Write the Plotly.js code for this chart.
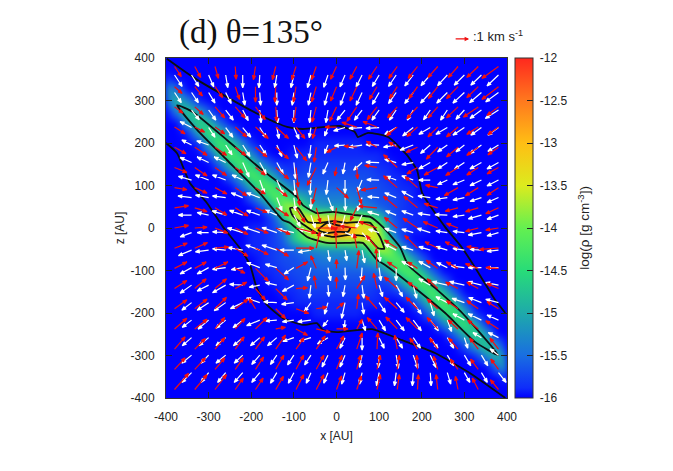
<!DOCTYPE html>
<html><head><meta charset="utf-8">
<script src="https://cdn.plot.ly/plotly-3.0.1.min.js"></script>
<style>html,body{margin:0;padding:0;background:#fff}.heatmaplayer image{filter:blur(3px)}</style></head>
<body><div id="chart" style="width:673px;height:471px"></div>
<script>
// log density in units of -0.1 dex, rows from z=400 to z=-400, columns x=-400..400, step 25
const densityTenths = [
[160,160,160,160,160,160,160,160,160,160,160,160,160,160,160,160,160,160,160,160,160,160,160,160,160,160,160,160,160,160,160,160,160],
[160,160,160,160,160,160,160,160,160,160,160,160,160,160,160,160,160,160,160,160,160,160,160,160,160,160,160,160,160,160,160,160,160],
[158,160,160,160,160,160,160,160,160,160,160,160,160,160,160,160,160,160,160,160,160,160,160,160,160,160,160,160,160,160,160,160,160],
[150,155,160,160,160,160,160,160,160,160,160,160,160,160,160,160,160,160,160,160,160,160,160,160,160,160,160,160,160,160,160,160,160],
[155,148,153,159,160,160,160,160,160,160,160,160,160,160,160,160,160,160,160,160,160,160,160,160,160,160,160,160,160,160,160,160,160],
[160,153,146,151,157,160,160,160,160,160,160,160,160,160,160,160,160,160,160,160,160,160,160,160,160,160,160,160,160,160,160,160,160],
[160,160,151,145,149,156,160,160,160,160,160,160,160,160,160,160,160,160,160,160,160,160,160,160,160,160,160,160,160,160,160,160,160],
[160,160,159,150,143,148,154,160,160,160,160,160,160,160,160,160,160,160,160,160,160,160,160,160,160,160,160,160,160,160,160,160,160],
[160,160,160,159,149,142,146,153,159,160,160,160,160,160,159,159,159,159,159,160,160,160,160,160,160,160,160,160,160,160,160,160,160],
[160,160,160,160,157,148,141,146,153,159,160,160,159,159,159,159,159,159,159,159,159,160,160,160,160,160,160,160,160,160,160,160,160],
[160,160,160,160,160,156,148,141,146,153,158,159,159,158,158,158,158,158,158,158,159,159,160,160,160,160,160,160,160,160,160,160,160],
[160,160,160,160,160,160,156,149,141,145,151,157,158,157,157,157,157,157,157,157,158,159,159,160,160,160,160,160,160,160,160,160,160],
[160,160,160,160,160,160,160,156,149,141,143,150,155,156,156,156,156,156,156,157,157,158,159,159,160,160,160,160,160,160,160,160,160],
[160,160,160,160,160,160,160,160,156,149,141,142,148,151,153,154,154,154,155,156,157,157,158,159,160,160,160,160,160,160,160,160,160],
[160,160,160,160,160,160,160,160,160,157,149,138,136,146,151,152,152,152,153,154,156,157,158,159,159,160,160,160,160,160,160,160,160],
[160,160,160,160,160,160,160,160,160,160,157,148,136,134,135,134,135,136,138,141,147,156,158,159,159,160,160,160,160,160,160,160,160],
[160,160,160,160,160,160,160,160,159,159,158,154,147,137,133,127,116,126,132,134,137,154,158,159,159,160,160,160,160,160,160,160,160],
[160,160,160,160,160,160,160,160,159,159,158,156,147,141,138,136,135,134,135,134,136,148,157,160,160,160,160,160,160,160,160,160,160],
[160,160,160,160,160,160,160,160,159,159,158,157,156,154,153,152,152,152,151,146,136,138,149,157,160,160,160,160,160,160,160,160,160],
[160,160,160,160,160,160,160,160,160,159,158,157,157,156,155,154,154,154,153,151,148,142,141,149,156,160,160,160,160,160,160,160,160],
[160,160,160,160,160,160,160,160,160,159,159,158,157,157,156,156,156,156,156,156,155,150,143,141,149,156,160,160,160,160,160,160,160],
[160,160,160,160,160,160,160,160,160,160,159,159,158,157,157,157,157,157,157,157,158,157,151,145,141,149,156,160,160,160,160,160,160],
[160,160,160,160,160,160,160,160,160,160,160,159,159,158,158,158,158,158,158,158,159,159,158,153,146,141,148,156,160,160,160,160,160],
[160,160,160,160,160,160,160,160,160,160,160,160,159,159,159,159,159,159,159,159,159,160,160,159,153,146,141,148,157,160,160,160,160],
[160,160,160,160,160,160,160,160,160,160,160,160,160,160,159,159,159,159,159,160,160,160,160,160,159,153,146,142,149,159,160,160,160],
[160,160,160,160,160,160,160,160,160,160,160,160,160,160,160,160,160,160,160,160,160,160,160,160,160,160,154,148,143,150,159,160,160],
[160,160,160,160,160,160,160,160,160,160,160,160,160,160,160,160,160,160,160,160,160,160,160,160,160,160,160,156,149,145,151,160,160],
[160,160,160,160,160,160,160,160,160,160,160,160,160,160,160,160,160,160,160,160,160,160,160,160,160,160,160,160,157,151,146,153,160],
[160,160,160,160,160,160,160,160,160,160,160,160,160,160,160,160,160,160,160,160,160,160,160,160,160,160,160,160,160,159,153,148,155],
[160,160,160,160,160,160,160,160,160,160,160,160,160,160,160,160,160,160,160,160,160,160,160,160,160,160,160,160,160,160,160,155,150],
[160,160,160,160,160,160,160,160,160,160,160,160,160,160,160,160,160,160,160,160,160,160,160,160,160,160,160,160,160,160,160,160,158],
[160,160,160,160,160,160,160,160,160,160,160,160,160,160,160,160,160,160,160,160,160,160,160,160,160,160,160,160,160,160,160,160,160],
[160,160,160,160,160,160,160,160,160,160,160,160,160,160,160,160,160,160,160,160,160,160,160,160,160,160,160,160,160,160,160,160,160]
];
const gridX = [-400,-375,-350,-325,-300,-275,-250,-225,-200,-175,-150,-125,-100,-75,-50,-25,0,25,50,75,100,125,150,175,200,225,250,275,300,325,350,375,400];
const gridZ = [400,375,350,325,300,275,250,225,200,175,150,125,100,75,50,25,0,-25,-50,-75,-100,-125,-150,-175,-200,-225,-250,-275,-300,-325,-350,-375,-400];

// velocity vectors (red): tail positions
const redX = [-380,-332.5,-285,-237.5,-190,-142.5,-95,-47.5,0,47.5,95,142.5,190,237.5,285,332.5,380];
const redZ = [380,332.5,285,237.5,190,142.5,95,47.5,0,-47.5,-95,-142.5,-190,-237.5,-285,-332.5,-380];
// u,v pairs per row
const redUV = [
[16,-24,14,-26,8,-28,2,-30,-5,-31,-8,-31,-10,-31,-11,-31,-14,-30,-16,-30,-20,-30,-20,-28,-22,-28,-23,-26,-23,-26,-27,-26,-39,-28],
[18,-16,18,-22,18,-26,10,-30,0,-36,-2,-36,-6,-36,-11,-36,-14,-34,-16,-34,-18,-30,-18,-28,-20,-28,-22,-28,-27,-28,-27,-26,-39,-30],
[20,-15,20,-18,23,-26,23,-26,23,-30,2,-34,-5,-36,-10,-36,-16,-34,-23,-34,-23,-30,-23,-26,-25,-28,-23,-26,-27,-26,-35,-24,-27,-20],
[25,-16,23,-12,23,-16,27,-23,30,-27,30,-27,21,-27,-9,-27,-27,0,-35,11,-33,13,-25,-20,-25,-22,-23,-23,-27,-23,-27,-17,-25,-18],
[27,-15,29,-19,27,-19,25,-19,27,-23,30,-27,25,-32,-5,-35,-23,-12,-30,3,-25,14,-20,12,-27,-12,-27,-28,-27,-23,-27,-19,-25,-18],
[29,-12,29,-20,27,-19,18,-13,23,-18,30,-27,5,-46,-21,-42,-4,-20,2,-27,-29,5,-32,30,-25,-15,-32,-18,-29,-19,-27,-18,-27,-15],
[29,-5,29,-13,28,-15,27,-19,23,-15,27,-21,9,-42,-9,-38,28,-25,11,-38,-37,-6,-32,28,-29,26,-29,6,-32,-19,-30,-19,-27,-18],
[33,5,29,-9,28,-17,30,-19,27,-11,30,-19,21,-34,10,-35,-5,-40,-15,-30,-43,4,-32,27,-32,27,-32,10,-30,-8,-30,-9,-30,-14],
[33,6,29,2,30,-12,30,-15,30,-12,34,-15,47,-12,45,0,2,2,-40,4,-42,15,-30,25,-34,23,-34,15,-27,11,-30,-8,-30,-5],
[30,12,30,13,32,3,30,-19,30,-15,30,-19,42,0,8,38,-2,40,-6,34,-25,30,-30,19,-30,30,-30,15,-30,15,-27,4,-45,-3],
[29,15,27,15,30,15,23,-11,30,-30,30,-27,27,15,-13,30,0,21,5,42,-2,46,-23,15,-23,15,-27,19,-27,15,-30,11,-30,2],
[29,19,27,23,27,23,27,15,23,-27,27,-27,27,2,-5,30,0,27,19,30,-8,36,-30,27,-23,15,-25,23,-29,15,-27,15,-27,12],
[29,21,29,23,27,27,30,23,-15,24,23,-23,30,-11,25,4,17,14,4,34,-27,30,-30,27,-27,27,-25,23,-27,19,-27,19,-27,17],
[29,25,29,23,23,27,23,25,27,27,23,4,27,-15,33,-8,27,0,13,23,-23,27,-27,28,-27,27,-25,27,-23,21,-25,21,-30,19],
[25,29,25,25,23,27,21,29,21,29,23,33,19,27,21,31,17,31,13,38,2,38,-6,33,-18,26,-19,26,-22,26,-20,26,-20,26],
[25,27,25,27,23,27,19,27,19,29,19,33,18,33,18,33,13,33,9,33,8,33,5,33,-2,33,-10,31,-18,24,-18,24,-18,24],
[33,38,29,35,27,35,19,27,18,27,18,31,18,35,18,35,12,32,11,32,8,35,5,35,2,35,-4,35,-6,31,-14,27,-19,23]
];

// white vectors: tail positions
const whiteX = [-380,-340,-300,-260,-220,-180,-140,-100,-60,-20,20,60,100,140,180,220,260,300,340,380];
const whiteZ = [360,318.8,277.6,236.4,195.2,154,112.8,71.6,30.4,-10.8,-52,-93.2,-134.4,-175.6,-216.8,-258,-299.2,-340.4];
// u,v pairs per row; 0,0 means no arrow
const whiteUV = [
[18,-27,17,-27,12,-28,5,-30,0,-30,-2,-30,-5,-30,-7,-30,-8,-30,-10,-29,-12,-28,-14,-28,-16,-27,-18,-27,-20,-26,-22,-25,-23,-25,-24,-24,-25,-24,-27,-26],
[16,-24,16,-24,15,-25,13,-26,5,-30,2,-30,0,-30,-4,-30,-6,-30,-8,-30,-11,-30,-14,-30,-16,-28,-18,-26,-20,-26,-23,-25,-25,-25,-27,-25,-28,-24,-30,-22],
[0,0,18,-23,17,-24,18,-24,13,-25,3,-30,2,-30,0,-30,-3,-30,-5,-30,-19,-24,-18,-24,-17,-24,-16,-24,-14,-24,-16,-23,-16,-24,-20,-22,-27,-20,-31,-20],
[0,0,-27,14,15,-23,17,-23,19,-23,15,-24,5,-26,12,-27,-4,-24,-8,-20,-27,-8,-31,-2,-31,-2,-27,-16,-25,-20,-27,-16,-27,-16,-27,-18,-25,-18,-25,-18],
[0,0,-23,12,-28,10,15,-23,17,-27,15,-23,12,-27,8,-31,-4,-31,-8,-20,-25,-2,-31,-5,-31,1,-30,-5,-31,-12,-23,-20,-23,-16,-20,-16,-27,-20,-25,-15],
[0,0,-27,12,-27,13,-27,13,15,-34,15,-27,15,-27,4,-38,-6,-35,-12,-27,-5,-27,-20,-18,-31,1,-27,8,-27,-5,-27,-15,-23,-15,-23,-15,-27,-15,-27,-15],
[0,0,-31,9,-31,12,-31,12,-25,12,11,-31,15,-34,3,-35,-2,-35,-4,-34,0,-31,-11,-27,-29,1,-23,9,-27,10,-27,0,-23,-11,-27,-11,-27,-13,-27,-14],
[0,0,-32,4,-31,6,-31,4,-27,11,-31,11,12,-31,4,-31,0,-27,12,-31,1,-31,-11,-31,-27,2,-27,11,-27,15,-29,4,-27,-4,-27,-6,-27,-9,-27,-12],
[0,0,-31,0,-27,6,-32,10,-31,11,-31,11,-27,12,15,-27,10,-30,5,-31,-8,-31,-15,-31,-27,8,-25,10,-27,10,-29,4,-29,1,-27,-4,-31,-9,-27,-10],
[0,0,-27,-10,-27,0,-31,2,-36,11,-38,13,-35,12,-38,8,-28,8,-20,-8,25,-10,18,-20,-25,8,-27,10,-27,8,-31,10,-27,4,-27,3,-31,-6,-27,-8],
[0,0,-31,-13,-31,-4,-31,3,-35,6,-33,12,-35,12,-33,0,-30,-5,4,-27,4,-25,6,-30,2,-27,-27,14,-27,8,-27,8,-27,8,-27,4,-27,2,-27,-3],
[0,0,-27,-15,-27,-15,-31,-4,-27,-5,-31,12,-27,8,-23,-15,-8,-31,6,-31,1,-29,-2,-31,4,-31,0,-31,-27,15,-27,15,-25,12,-31,4,-31,0,-28,-1],
[0,0,-27,-19,-27,-14,-31,-18,-31,2,-25,-5,-27,6,-27,-15,-4,-31,2,-27,-5,-27,4,-31,8,-27,15,-27,8,-31,-27,15,-35,8,-35,8,-31,8,-30,6],
[0,0,-23,-18,-27,-18,-27,-19,-29,-14,-31,11,-31,2,-29,-4,-15,-21,-8,-27,-8,-37,4,-27,15,-23,19,-23,19,-27,9,-31,-27,14,-29,10,-30,12,-30,8],
[0,0,-22,-17,-25,-21,-23,-19,-23,-18,-31,-13,-27,-2,-27,-4,-31,-4,-12,-15,-2,-20,8,-25,15,-25,19,-25,19,-25,19,-25,10,-27,-27,15,-31,15,-27,12],
[0,0,-22,-19,-23,-19,-23,-19,-22,-19,-22,-19,-22,-19,-26,-9,-27,-8,-25,-15,-12,-25,0,-29,12,-25,15,-25,17,-25,18,-25,15,-25,8,-25,-20,12,-24,12],
[0,0,-23,-19,-18,-19,-23,-19,-20,-19,-19,-22,-15,-22,-15,-23,-15,-23,-14,-28,-12,-28,-6,-29,-2,-29,5,-31,11,-31,14,-29,15,-25,15,-25,15,-25,-20,15],
[0,0,-23,-23,-18,-23,-19,-23,-20,-23,-19,-23,-15,-25,-13,-25,-11,-25,-10,-25,-8,-27,-6,-27,-6,-31,-4,-31,-2,-31,2,-31,8,-27,13,-23,14,-23,18,-23]
];

// contour lines
const upperEnvX = [-398,-337,-257,-180,-116,-79,8,43,50,74,121,165,189,201,255,295,332,372,396];
const upperEnvZ = [398,355,308,266,238,233,240,226,214,224,214,172,136,82,2,-47,-104,-169,-200];
const lowerEnvX = [-400,-374,-344,-304,-266,-227,-203,-187,-163,-126,-79,-46,-32,1,83,154,231,309,396];
const lowerEnvZ = [200,176,106,59,2,-47,-87,-141,-181,-212,-228,-224,-240,-245,-238,-264,-294,-339,-400];
const diskX = [-374,-337,-257,-180,-93,-79,-46,-8,39,79,109,149,168,231,295,379,325,255,184,114,95,62,32,-22,-69,-109,-126,-180,-257,-327,-374];
const diskZ = [289,273,207,141,73,54,35,38,31,26,2,-45,-87,-141,-200,-299,-268,-200,-141,-87,-75,-35,-35,-35,-21,12,19,82,160,231,289];
const innerX = [-109,-90,-67,-39,-8,25,50,79,102,112,97,72,32,-8,-46,-86,-104,-109];
const innerZ = [47,47,14,12,16,12,14,12,-21,-49,-47,-21,-16,-21,-12,14,31,47];
const coreX = [-43,-22,1,32,27,1,-22,-43];
const coreZ = [-5,12,7,0,-9,-9,-12,-5];

const xTicks = [-400,-300,-200,-100,0,100,200,300,400];
const xTickText = ['-400','-300','-200','-100','0','100','200','300','400'];
const cbTicks = [-16,-15.5,-15,-14.5,-14,-13.5,-13,-12.5,-12];
const cbTickText = ['\u00a0-16','\u00a0-15.5','\u00a0-15','\u00a0-14.5','\u00a0-14','\u00a0-13.5','\u00a0-13','\u00a0-12.5','\u00a0-12'];

function arrowTrace(xs, zs, rows, color, width, headLen, headHalf) {
  const px = [], pz = [];
  rows.forEach((row, j) => {
    xs.forEach((x0, i) => {
      const u = row[2*i], v = row[2*i+1];
      if (!u && !v) return;
      const z0 = zs[j], x1 = x0+u, z1 = z0+v, L = Math.hypot(u,v);
      const ux = u/L, uz = v/L;
      const bx = x1-ux*headLen, bz = z1-uz*headLen;
      px.push(x0,x1,bx-uz*headHalf,bx+uz*headHalf,x1,null);
      pz.push(z0,z1,bz+ux*headHalf,bz-ux*headHalf,z1,null);
    });
  });
  return {type:'scatter',mode:'lines',x:px,y:pz,fill:'toself',fillcolor:color,
    line:{color:color,width:width},hoverinfo:'skip',showlegend:false};
}
function contourTrace(x,z){
  return {type:'scatter',mode:'lines',x:x,y:z,line:{color:'#0a0f14',width:1.8,shape:'spline',smoothing:0.5},hoverinfo:'skip',showlegend:false};
}

const densityZ = densityTenths.map(r => r.map(v => -v/10));
const traces = [
 {type:'heatmap',x:gridX,y:gridZ,z:densityZ,zmin:-16,zmax:-12,zsmooth:'best',
  colorscale:[[0,'rgb(0,0,255)'],[0.03,'rgb(15,45,250)'],[0.125,'rgb(25,110,225)'],[0.25,'rgb(30,170,170)'],[0.375,'rgb(40,220,120)'],[0.5,'rgb(100,240,80)'],[0.625,'rgb(220,235,30)'],[0.75,'rgb(255,190,20)'],[0.875,'rgb(255,120,30)'],[1,'rgb(255,40,30)']],
  colorbar:{x:1.0235,xanchor:'left',xpad:0,ypad:0,y:0.5,yanchor:'middle',len:1,thickness:18,outlinecolor:'#333',outlinewidth:1,
    tickmode:'array',tickvals:cbTicks,ticktext:cbTickText,ticks:'inside',ticklen:6,tickcolor:'#222',
    tickfont:{family:'Liberation Sans',size:12,color:'#222'}}},
 contourTrace(upperEnvX,upperEnvZ),
 contourTrace(lowerEnvX,lowerEnvZ),
 contourTrace(diskX,diskZ),
 contourTrace(innerX,innerZ),
 contourTrace(coreX,coreZ),
 arrowTrace(whiteX,whiteZ,whiteUV,'#ffffff',1.2,9,3.2),
 arrowTrace(redX,redZ,redUV,'#f01010',1.2,9,3.2)
];
const axisBase = {range:[-400,400],showgrid:false,zeroline:false,showline:true,mirror:'ticks',linecolor:'#333',linewidth:1,
  ticks:'inside',ticklen:6,tickcolor:'#222',tickmode:'array',tickvals:xTicks,ticktext:xTickText,ticklabelstandoff:8,
  tickfont:{family:'Liberation Sans',size:12,color:'#222'}};
const layout = {
  width:673,height:471,paper_bgcolor:'#fff',plot_bgcolor:'#00f',showlegend:false,
  margin:{l:166,r:166,t:58,b:73},
  xaxis:Object.assign({},axisBase,{title:{text:'x [AU]',standoff:8,font:{family:'Liberation Sans',size:12,color:'#222'}}}),
  yaxis:Object.assign({},axisBase,{title:{text:'z [AU]',standoff:3,font:{family:'Liberation Sans',size:12,color:'#222'}}}),
  annotations:[
   {xref:'paper',yref:'paper',x:0.033,y:1.076,xanchor:'left',yanchor:'middle',showarrow:false,text:'(d) θ=135°',font:{family:'Liberation Serif',size:33,color:'#111'}},
   {xref:'paper',yref:'paper',x:0.893,y:1.065,xanchor:'left',yanchor:'middle',showarrow:false,text:':1 km s<sup>-1</sup>',font:{family:'Liberation Sans',size:13,color:'#222'}},
   {xref:'paper',yref:'paper',x:1.225,y:0.5,xanchor:'center',yanchor:'middle',showarrow:false,textangle:-90,text:'log(ρ [g cm<sup>-3</sup>])',font:{family:'Liberation Sans',size:13.5,color:'#222'}},
   {xref:'paper',yref:'paper',x:0.889,y:1.056,axref:'pixel',ayref:'pixel',ax:-15,ay:0,showarrow:true,arrowhead:2,arrowsize:0.7,arrowwidth:1.3,arrowcolor:'#f01010',text:'\u00a0',font:{size:1}}
  ]
};
Plotly.newPlot('chart',traces,layout,{displayModeBar:false,staticPlot:true});
</script></body></html>
